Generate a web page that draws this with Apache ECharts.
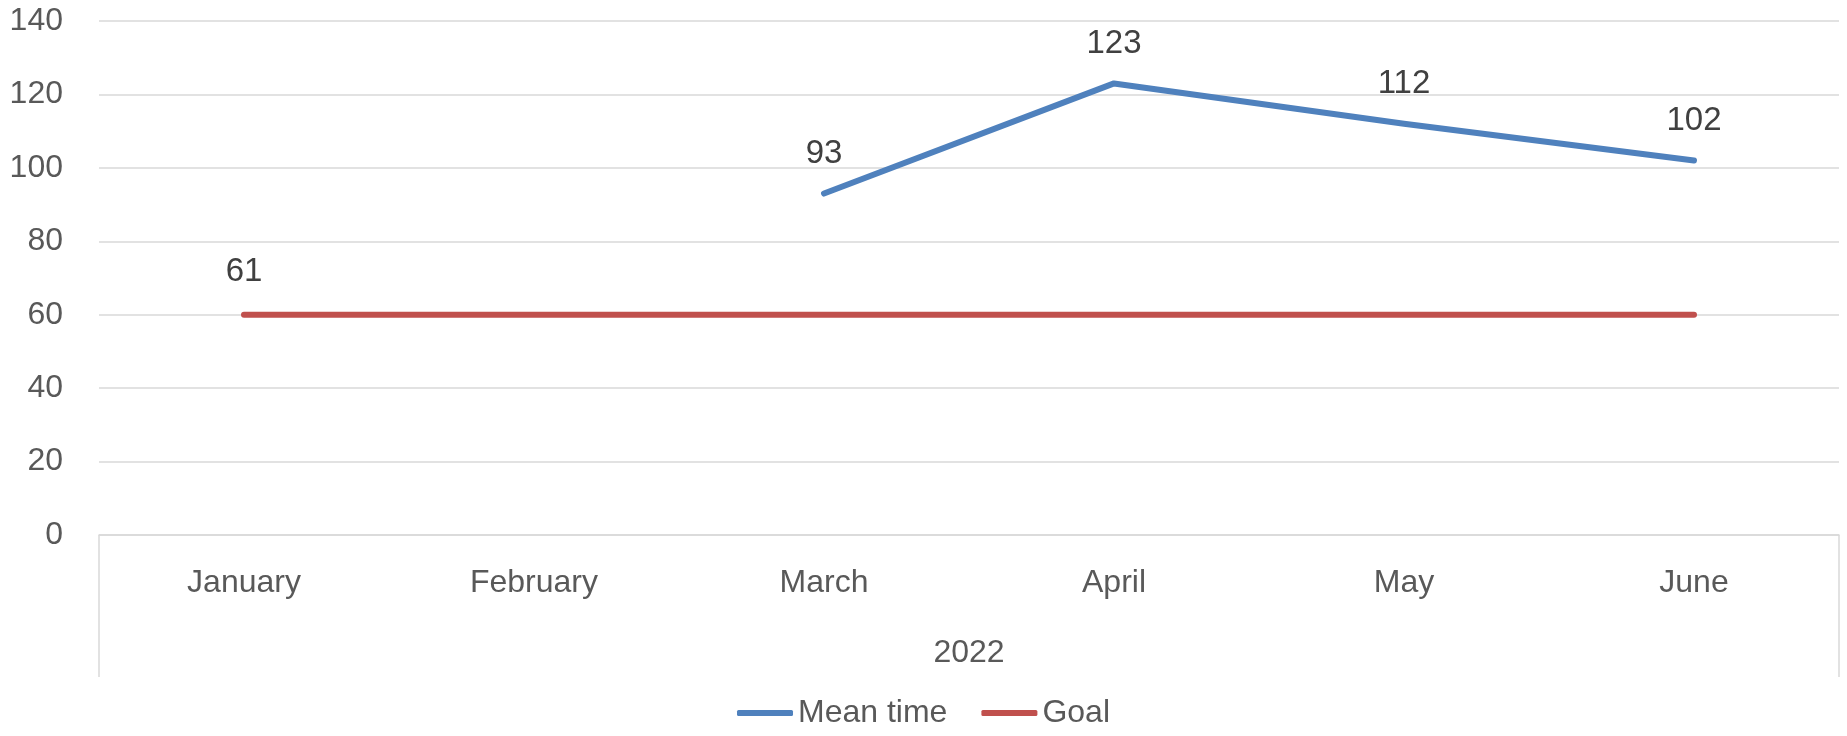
<!DOCTYPE html>
<html>
<head>
<meta charset="utf-8">
<script src="https://cdn.jsdelivr.net/npm/echarts@6/dist/echarts.min.js"></script>
<style>html,body{margin:0;padding:0;background:#fff}#c{width:1847px;height:736px}</style>
</head>
<body>
<div id="c"></div>
<script>
const months = ['January', 'February', 'March', 'April', 'May', 'June'];
const yearLabels = ['2022'];
const meanTime = [61, null, 93, 123, 112, 102];
const goal = [60, 60, 60, 60, 60, 60];
const yTicks = { min: 0, max: 140, interval: 20 };

const FONT = 'Liberation Sans';
const chart = echarts.init(document.getElementById('c'));
chart.setOption({
  animation: false,
  backgroundColor: '#fff',
  textStyle: { fontFamily: FONT },
  grid: { left: 99, right: 8, top: 21, bottom: 201, containLabel: false },
  legend: {
    bottom: 2,
    left: 'center',
    icon: 'roundRect',
    itemWidth: 56,
    itemHeight: 6,
    itemGap: 34,
    textStyle: { fontFamily: FONT, fontSize: 32, color: '#595959' },
    data: ['Mean time', 'Goal']
  },
  xAxis: [
    {
      type: 'category',
      data: months,
      boundaryGap: true,
      axisLine: { show: true, lineStyle: { color: '#D9D9D9', width: 1.5 } },
      axisTick: { show: false },
      axisLabel: { margin: 32, fontSize: 32, color: '#595959', fontFamily: FONT }
    },
    {
      type: 'category',
      data: yearLabels,
      position: 'bottom',
      boundaryGap: true,
      axisLine: { show: false },
      axisTick: { show: true, length: 142, lineStyle: { color: '#D9D9D9', width: 1.5 } },
      axisLabel: { margin: 102, fontSize: 32, color: '#595959', fontFamily: FONT }
    }
  ],
  yAxis: {
    type: 'value',
    min: yTicks.min,
    max: yTicks.max,
    interval: yTicks.interval,
    axisLine: { show: false },
    axisTick: { show: false },
    splitLine: { lineStyle: { color: '#D9D9D9', width: 1.5 } },
    axisLabel: { margin: 36, fontSize: 32, color: '#595959', fontFamily: FONT }
  },
  series: [
    {
      name: 'Goal',
      type: 'line',
      data: goal,
      symbol: 'none',
      lineStyle: { color: '#C0504D', width: 6, cap: 'round' },
      itemStyle: { color: '#C0504D' },
      z: 2
    },
    {
      name: 'Mean time',
      type: 'line',
      data: meanTime,
      connectNulls: false,
      symbol: 'circle',
      symbolSize: 0,
      showSymbol: true,
      lineStyle: { color: '#4F81BD', width: 6, cap: 'round', join: 'round' },
      itemStyle: { color: '#4F81BD' },
      label: {
        show: true,
        position: 'top',
        distance: 23,
        fontSize: 33,
        color: '#404040',
        fontFamily: FONT
      },
      z: 3
    }
  ]
});
</script>
</body>
</html>
